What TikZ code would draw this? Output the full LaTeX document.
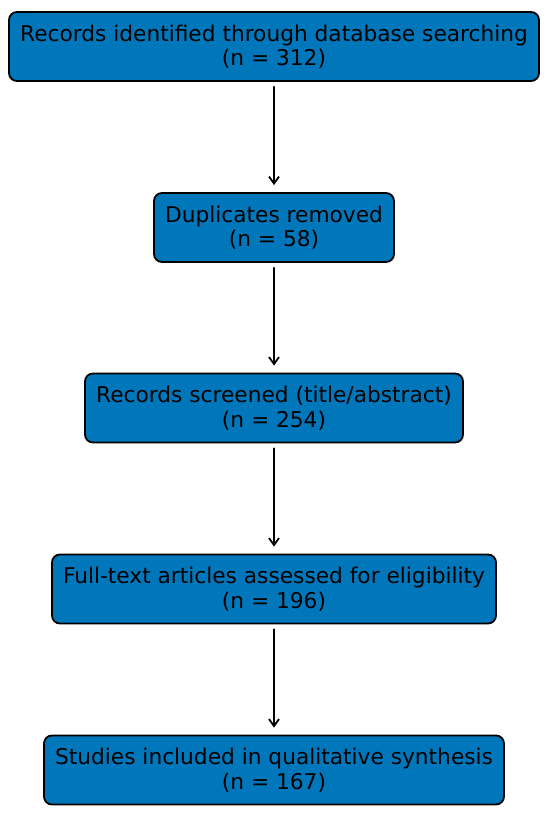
\documentclass[tikz,border=0pt]{standalone}
\usepackage{fontspec}
\setmainfont{DejaVu Sans}
\usetikzlibrary{arrows.meta}
\definecolor{boxblue}{RGB}{0,119,187}
\begin{document}
\begin{tikzpicture}[x=1pt, y=-1pt, line join=round, line cap=round, font=\fontsize{21.7}{24.5}\selectfont, >={Straight Barb[length=7pt,width=10pt]},
	box/.style={draw=black, line width=1.8pt, fill=boxblue, rounded corners=8pt, align=center, inner sep=0pt, minimum height=69pt},
	arr/.style={->, line width=1.8pt, shorten <=5pt, shorten >=7pt}]
				\useasboundingbox (0,0) rectangle (550,813);
				\node[box, minimum width=530pt] (A) at (274,46.5) {Records identified through database searching\\(n = 312)};
				\node[box, minimum width=240pt] (B) at (274,227.5) {Duplicates removed\\(n = 58)};
				\node[box, minimum width=378pt] (C) at (274,408) {Records screened (title/abstract)\\(n = 254)};
				\node[box, minimum width=444pt] (D) at (274,589) {Full-text articles assessed for eligibility\\(n = 196)};
				\node[box, minimum width=460pt] (E) at (274,770) {Studies included in qualitative synthesis\\(n = 167)};
				\draw[arr] (A) -- (B);
				\draw[arr] (B) -- (C);
				\draw[arr] (C) -- (D);
				\draw[arr] (D) -- (E);
			\end{tikzpicture}
\end{document}
